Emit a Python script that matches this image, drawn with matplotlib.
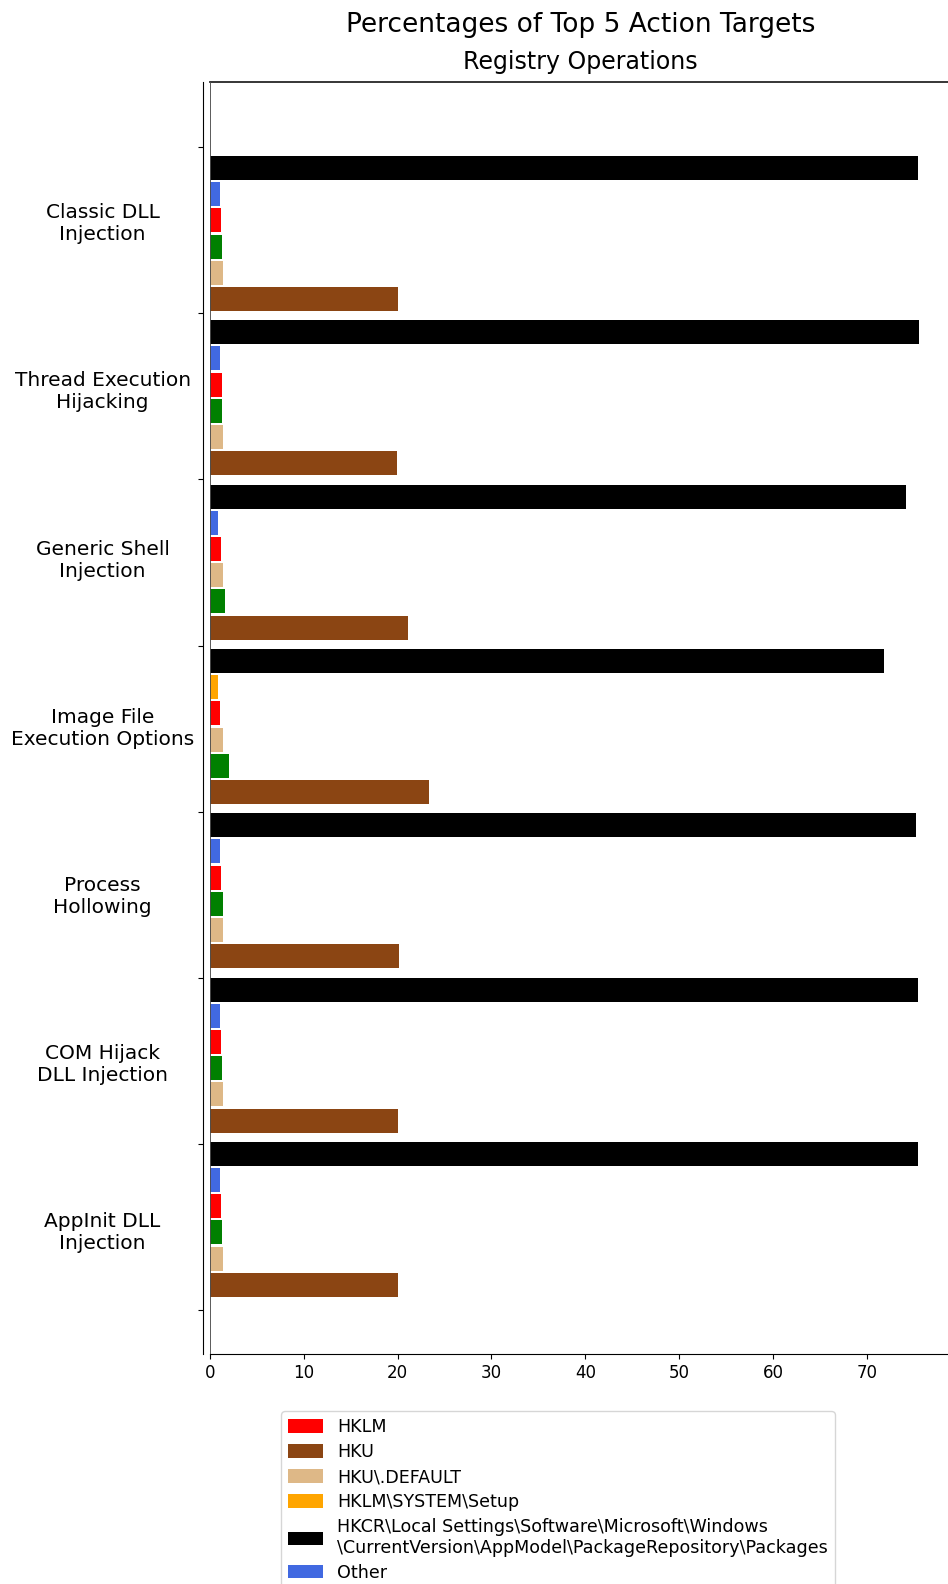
import matplotlib
matplotlib.use("Agg")
import matplotlib.pyplot as plt
from matplotlib.patches import Patch
from matplotlib.transforms import blended_transform_factory

# Injection techniques (one bar group each, top to bottom)
techniques = [
    "Classic DLL\nInjection",
    "Thread Execution\nHijacking",
    "Generic Shell\nInjection",
    "Image File\nExecution Options",
    "Process\nHollowing",
    "COM Hijack\nDLL Injection",
    "AppInit DLL\nInjection",
]

# Registry targets: key -> legend label
target_labels = {
    "hklm": "HKLM",
    "hku": "HKU",
    "default": "HKU\\.DEFAULT",
    "setup": "HKLM\\SYSTEM\\Setup",
    "pkg": "HKCR\\Local Settings\\Software\\Microsoft\\Windows\n"
           "\\CurrentVersion\\AppModel\\PackageRepository\\Packages",
    "other": "Other",
}
target_colors = {
    "hklm": "#ff0000",
    "hku": "#8b4513",
    "default": "#deb887",
    "setup": "#ffa500",
    "pkg": "#000000",
    "other": "#4169e1",
    "green": "#008000",
}

# Bar order inside each group (top to bottom)
order_standard = ["pkg", "other", "hklm", "green", "default", "hku"]
order_generic_shell = ["pkg", "other", "hklm", "default", "green", "hku"]
order_ifeo = ["pkg", "setup", "hklm", "default", "green", "hku"]

# Percentages, in the same order as the bars of each group
classic_dll = [75.4, 1.1, 1.2, 1.3, 1.4, 20.0]
thread_hijack = [75.5, 1.1, 1.3, 1.3, 1.4, 19.9]
generic_shell = [74.2, 0.9, 1.2, 1.4, 1.6, 21.1]
ifeo = [71.8, 0.9, 1.1, 1.4, 2.0, 23.4]
hollowing = [75.2, 1.1, 1.2, 1.4, 1.4, 20.2]
com_hijack = [75.4, 1.1, 1.2, 1.3, 1.4, 20.0]
appinit = [75.4, 1.1, 1.2, 1.3, 1.4, 20.0]

group_orders = [order_standard, order_standard, order_generic_shell, order_ifeo,
                order_standard, order_standard, order_standard]
group_values = [classic_dll, thread_hijack, generic_shell, ifeo,
                hollowing, com_hijack, appinit]

x_ticks = [0, 10, 20, 30, 40, 50, 60, 70]

# Vertical layout (one bar group = 1 unit)
BAR_OFFSET = 0.126
BAR_STEP = 0.1595
BAR_HEIGHT = 0.146
TICK_STEP = 1.011
LABEL_START = 0.467
LABEL_STEP = 1.0225

W, H = 948, 1584
fig = plt.figure(figsize=(W / 100, H / 100), dpi=100)
ax_left, ax_right = 209.8 / W, 951.5 / W
ax_top, ax_bottom = 1 - 82 / H, 1 - 1354 / H
ax = fig.add_axes([ax_left, ax_bottom, ax_right - ax_left, ax_top - ax_bottom])

for g, (order, vals) in enumerate(zip(group_orders, group_values)):
    for j, (key, v) in enumerate(zip(order, vals)):
        ax.barh(g + BAR_OFFSET + j * BAR_STEP, v, height=BAR_HEIGHT,
                color=target_colors[key], linewidth=0)

ax.axvline(0, color="0.3", lw=1.3, zorder=3)

ax.set_xlim(0, 79.0)
ax.set_ylim(7.344, -0.397)
ax.set_xticks(x_ticks)
ax.tick_params(axis="x", labelsize=12)

# group boundary ticks without labels
ax.set_yticks([k * TICK_STEP for k in range(len(techniques) + 1)])
ax.set_yticklabels([])

# technique names, centred in the left margin
label_tr = blended_transform_factory(fig.transFigure, ax.transData)
for g, name in enumerate(techniques):
    ax.text(102.6 / W, LABEL_START + g * LABEL_STEP, name, transform=label_tr,
            ha="center", va="center", multialignment="center", fontsize=14.5)

ax.spines["left"].set_position(("outward", 5.25))
ax.spines["right"].set_visible(False)
ax.spines["top"].set_linewidth(1.3)
ax.spines["top"].set_color("0.15")

tr = blended_transform_factory(ax.transAxes, fig.transFigure)
ax.text(0.5, 1 - 24.8 / H, "Percentages of Top 5 Action Targets", transform=tr,
        ha="center", va="center", fontsize=19)
ax.text(0.5, 1 - 62.2 / H, "Registry Operations", transform=tr,
        ha="center", va="center", fontsize=17)

legend_keys = ["hklm", "hku", "default", "setup", "pkg", "other"]
handles = [Patch(facecolor=target_colors[k], label=target_labels[k]) for k in legend_keys]
fig.legend(handles=handles, loc="upper left", bbox_to_anchor=(281 / W, 1 - 1411 / H),
           borderaxespad=0, fontsize=12.6, labelspacing=0.40, handleheight=0.8)

fig.savefig("out.png", dpi=100)
